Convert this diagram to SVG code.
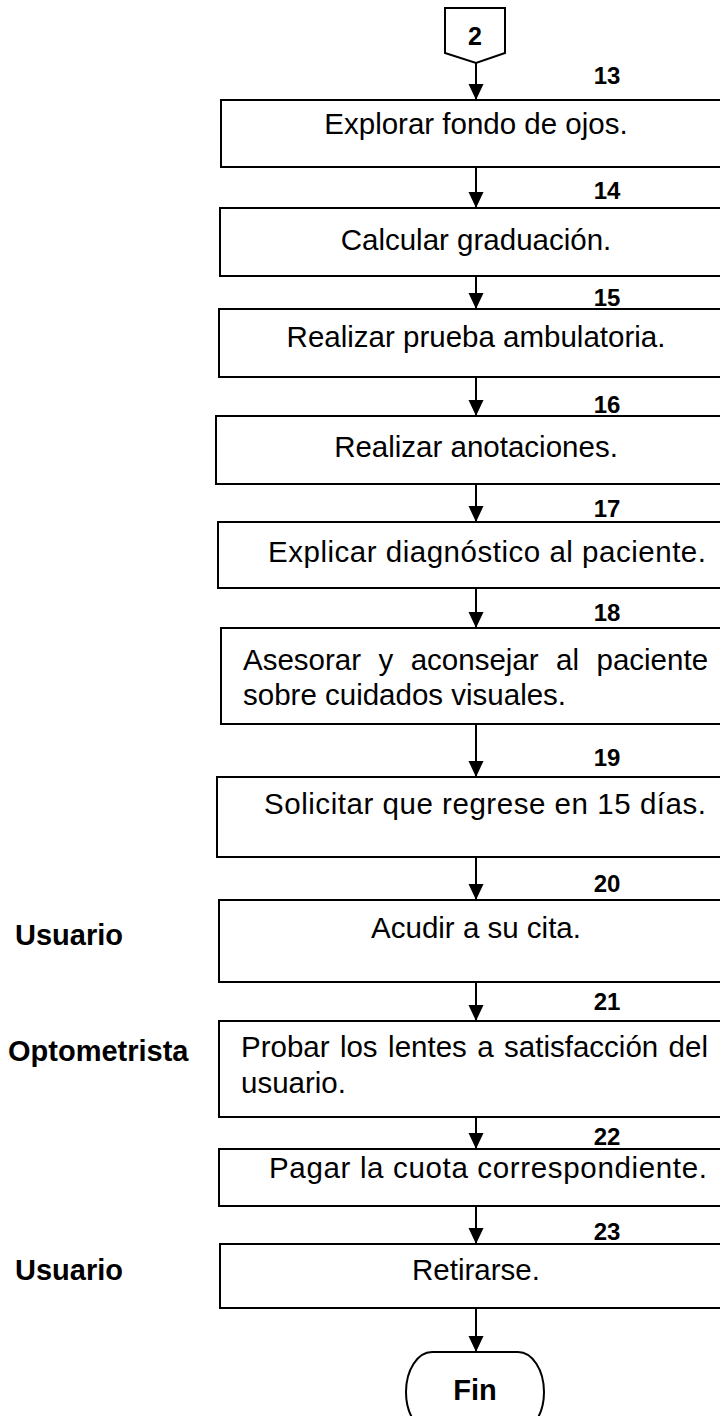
<svg xmlns="http://www.w3.org/2000/svg" width="720" height="1416" viewBox="0 0 720 1416">
<style>
.box{fill:#fff;stroke:#000;stroke-width:2}
.t{font-family:"Liberation Sans",Arial,sans-serif;font-size:29.5px;fill:#000}
.c{text-anchor:middle}
.n{font-family:"Liberation Sans",Arial,sans-serif;font-size:24px;font-weight:bold;fill:#000;text-anchor:middle}
.lane{font-family:"Liberation Sans",Arial,sans-serif;font-size:29px;font-weight:bold;fill:#000}
.ln{stroke:#000;stroke-width:2;fill:none}
</style>
<defs>
<marker id="ah" markerWidth="17" markerHeight="17" viewBox="0 0 17 17" refX="16" refY="8.5" orient="auto" markerUnits="userSpaceOnUse">
<path d="M0,1 L16,8.5 L0,16 Z" fill="#000"/>
</marker>
</defs>

<g id="connectors">
<line class="ln" x1="476" y1="63" x2="476" y2="100" marker-end="url(#ah)"/>
<line class="ln" x1="476" y1="167" x2="476" y2="208" marker-end="url(#ah)"/>
<line class="ln" x1="476" y1="276" x2="476" y2="309" marker-end="url(#ah)"/>
<line class="ln" x1="476" y1="377" x2="476" y2="416" marker-end="url(#ah)"/>
<line class="ln" x1="476" y1="484" x2="476" y2="522" marker-end="url(#ah)"/>
<line class="ln" x1="476" y1="588" x2="476" y2="628" marker-end="url(#ah)"/>
<line class="ln" x1="476" y1="724" x2="476" y2="777" marker-end="url(#ah)"/>
<line class="ln" x1="476" y1="857" x2="476" y2="900" marker-end="url(#ah)"/>
<line class="ln" x1="476" y1="982" x2="476" y2="1021" marker-end="url(#ah)"/>
<line class="ln" x1="476" y1="1117" x2="476" y2="1149" marker-end="url(#ah)"/>
<line class="ln" x1="476" y1="1206" x2="476" y2="1244" marker-end="url(#ah)"/>
<line class="ln" x1="476" y1="1308" x2="476" y2="1352" marker-end="url(#ah)"/>
</g>

<g id="start">
<path class="box" d="M445,8 H505 V53 L476,63 L445,53 Z"/>
<text class="n" x="475" y="45" style="font-size:25px">2</text>
</g>

<g id="step13">
<rect class="box" x="221" y="100" width="510" height="67"/>
<text class="n" x="607" y="84">13</text>
<text class="t c" x="476" y="134">Explorar fondo de ojos.</text>
</g>
<g id="step14">
<rect class="box" x="220" y="208" width="510" height="68"/>
<text class="n" x="607" y="199">14</text>
<text class="t c" x="476" y="250">Calcular graduación.</text>
</g>
<g id="step15">
<rect class="box" x="219" y="309" width="510" height="68"/>
<text class="n" x="607" y="306">15</text>
<text class="t c" x="476" y="347">Realizar prueba ambulatoria.</text>
</g>
<g id="step16">
<rect class="box" x="216" y="416" width="510" height="68"/>
<text class="n" x="607" y="413">16</text>
<text class="t c" x="476" y="457">Realizar anotaciones.</text>
</g>
<g id="step17">
<rect class="box" x="218" y="522" width="510" height="66"/>
<text class="n" x="607" y="517">17</text>
<text class="t" x="268" y="562" textLength="438" lengthAdjust="spacing">Explicar diagnóstico al paciente.</text>
</g>
<g id="step18">
<rect class="box" x="221" y="628" width="510" height="96"/>
<text class="n" x="607" y="621">18</text>
<text class="t" y="670"><tspan x="243">Asesorar</tspan><tspan x="378.5">y</tspan><tspan x="410.7">aconsejar</tspan><tspan x="556.1">al</tspan><tspan x="596.5">paciente</tspan></text>
<text class="t" x="243" y="705">sobre cuidados visuales.</text>
</g>
<g id="step19">
<rect class="box" x="217" y="777" width="510" height="80"/>
<text class="n" x="607" y="766">19</text>
<text class="t" x="264" y="814" textLength="442" lengthAdjust="spacing">Solicitar que regrese en 15 días.</text>
</g>
<g id="step20">
<rect class="box" x="219" y="900" width="510" height="82"/>
<text class="n" x="607" y="892">20</text>
<text class="t c" x="476" y="938">Acudir a su cita.</text>
</g>
<g id="step21">
<rect class="box" x="219" y="1021" width="510" height="96"/>
<text class="n" x="607" y="1010">21</text>
<text class="t" y="1057"><tspan x="241">Probar</tspan><tspan x="339.9">los</tspan><tspan x="388.1">lentes</tspan><tspan x="477.2">a</tspan><tspan x="504.1">satisfacción</tspan><tspan x="668.6">del</tspan></text>
<text class="t" x="241" y="1093">usuario.</text>
</g>
<g id="step22">
<rect class="box" x="219" y="1149" width="510" height="57"/>
<text class="n" x="607" y="1145">22</text>
<text class="t" x="269" y="1178" textLength="438" lengthAdjust="spacing">Pagar la cuota correspondiente.</text>
</g>
<g id="step23">
<rect class="box" x="220" y="1244" width="510" height="64"/>
<text class="n" x="607" y="1240">23</text>
<text class="t c" x="476" y="1280">Retirarse.</text>
</g>
<g id="end">
<path class="box" d="M432,1352 H518 A26,40 0 0 1 518,1432 H432 A26,40 0 0 1 432,1352 Z"/>
<text class="lane" x="475" y="1400" text-anchor="middle">Fin</text>
</g>

<g id="lanes">
<text class="lane" x="15" y="945">Usuario</text>
<text class="lane" x="8" y="1061">Optometrista</text>
<text class="lane" x="15" y="1280">Usuario</text>
</g>
</svg>
